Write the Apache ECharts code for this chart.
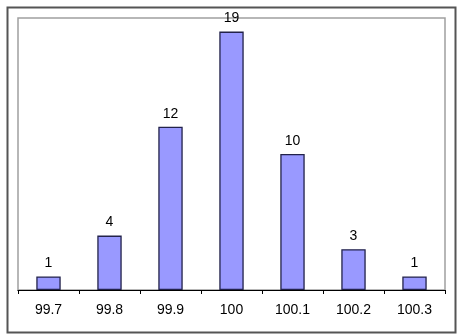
<!DOCTYPE html>
<html><head><meta charset="utf-8">
<script src="https://cdn.jsdelivr.net/npm/echarts@6/dist/echarts.min.js"></script>
<style>html,body{margin:0;padding:0;background:#fff}#c{width:459px;height:334px}</style>
</head><body><div id="c"></div>
<script>
const categories = ['99.7','99.8','99.9','100','100.1','100.2','100.3'];
const counts = [1, 4, 12, 19, 10, 3, 1];

const chart = echarts.init(document.getElementById('c'), null, {renderer:'canvas'});
chart.setOption({
  animation:false,
  backgroundColor:'#fff',
  graphic:[{type:'rect',shape:{x:7.5,y:7.5,width:448,height:325},style:{fill:'none',stroke:'#555',lineWidth:2},silent:true}],
  grid:{left:18,right:14,top:18,bottom:44,show:true,borderColor:'#a0a0a0',borderWidth:1.5,backgroundColor:'transparent'},
  xAxis:{type:'category',data:categories,
    axisLine:{lineStyle:{color:'#000',width:1.2}},
    axisTick:{show:true,length:4,inside:false,lineStyle:{color:'#000'}},
    axisLabel:{color:'#000',fontFamily:'Liberation Sans, Arial',fontSize:14,margin:13}},
  yAxis:{type:'value',min:0,max:20,show:false,splitLine:{show:false}},
  series:[{type:'bar',data:counts,barWidth:'40%',
    itemStyle:{color:'#9999ff',borderColor:'#22224a',borderWidth:1.3},
    label:{show:true,position:'top',distance:6,color:'#000',fontFamily:'Liberation Sans, Arial',fontSize:14}}]
});
</script></body></html>
